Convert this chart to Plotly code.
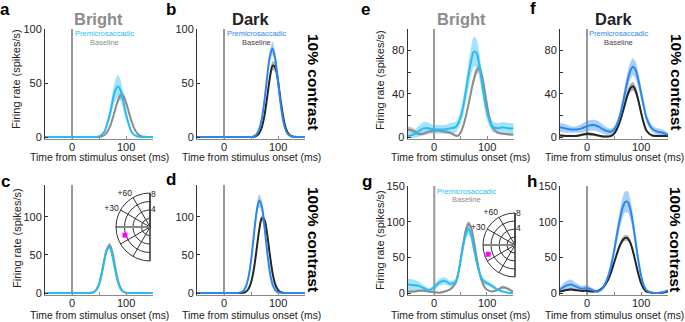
import plotly.graph_objects as go

W, H = 685, 322

# ---------------- data ----------------
T_AD = [-50, -25, 0, 20, 25, 30, 35, 40, 45, 50, 55, 60, 65, 70, 75, 80, 85, 90, 95, 100,
        105, 110, 115, 120, 125, 130, 135, 140, 150]

A_PRE = [0, 0, 0, 0, 0, 0, 0, 0, 0, 0.5, 2, 5, 12, 21, 33, 43, 47, 43, 33, 21, 12, 5, 2, 0.7, 0.2, 0, 0, 0, 0]
A_PRE_SEM = [0, 0, 0, 0, 0, 0, 0, 0, 0, 0.2, 0.5, 1.2, 2.8, 5, 7.5, 9.5, 10.5, 9.5, 7.5, 5, 2.8, 1.2, 0.5, 0.2, 0, 0, 0, 0, 0]
A_BASE = [0, 0, 0, 0, 0, 0, 0, 0, 0, 0.2, 0.7, 1.9, 4.5, 9.3, 16.6, 25.5, 33.7, 38.5, 38, 32, 23.6, 15, 8.2, 3.8, 1.6, 0.6, 0.2, 0, 0]
A_BASE_SEM = [0, 0, 0, 0, 0, 0, 0, 0, 0, 0, 0.1, 0.2, 0.4, 0.8, 1.4, 2.1, 2.8, 3.3, 3.3, 2.9, 2.2, 1.5, 0.8, 0.4, 0.2, 0.1, 0, 0, 0]

B_PRE = [0, 0, 0, 0, 0, 0, 0, 0, 0, 0, 0.6, 2.3, 7, 17, 34, 56, 75, 82, 72, 52, 30, 14, 5.5, 1.8, 0.5, 0, 0, 0, 0]
B_PRE_SEM = [0, 0, 0, 0, 0, 0, 0, 0, 0, 0, 0.1, 0.3, 0.8, 1.8, 3, 4.5, 5.5, 6, 5.5, 4.5, 3, 1.8, 0.8, 0.3, 0.1, 0, 0, 0, 0]
B_BASE = [0, 0, 0, 0, 0, 0, 0, 0, 0, 0, 0.3, 1, 3.3, 9, 20, 37, 55, 66, 64.5, 52, 33.5, 17.5, 7.4, 2.6, 0.8, 0.2, 0, 0, 0]
B_BASE_SEM = [0, 0, 0, 0, 0, 0, 0, 0, 0, 0, 0, 0.1, 0.3, 0.8, 1.6, 2.6, 3.6, 4.2, 4.2, 3.6, 2.6, 1.6, 0.8, 0.3, 0.1, 0, 0, 0, 0]

C_PRE = [0, 0, 0, 0, 0, 0, 0.3, 1.2, 4.3, 12, 26, 44, 58, 60, 48, 30, 14.4, 5.4, 1.6, 0.4, 0, 0, 0, 0, 0, 0, 0, 0, 0]
C_PRE_SEM = [0, 0, 0, 0, 0, 0, 0, 0.1, 0.3, 0.8, 1.6, 2.5, 3, 3, 2.6, 1.8, 0.9, 0.4, 0.1, 0, 0, 0, 0, 0, 0, 0, 0, 0, 0]
C_BASE = [0, 0, 0, 0, 0, 0, 0.2, 1, 4, 11, 25, 43, 58, 63, 53, 34, 17, 6.5, 2, 0.5, 0.1, 0, 0, 0, 0, 0, 0, 0, 0]
C_BASE_SEM = [0, 0, 0, 0, 0, 0, 0, 0.1, 0.3, 0.8, 1.6, 2.5, 3.2, 3.4, 3, 2, 1, 0.4, 0.1, 0, 0, 0, 0, 0, 0, 0, 0, 0, 0]

D_PRE = [0, 0, 0, 0, 0, 0.6, 2.3, 7.5, 19.7, 42, 74, 105, 121.5, 114, 87, 54, 27, 11, 3.8, 1, 0.2, 0, 0, 0, 0, 0, 0, 0, 0]
D_PRE_SEM = [0, 0, 0, 0, 0, 0, 0.2, 0.6, 1.6, 3.4, 5.5, 7.5, 8.5, 8, 6.2, 4, 2, 0.8, 0.3, 0, 0, 0, 0, 0, 0, 0, 0, 0, 0]
D_BASE = [0, 0, 0, 0, 0, 0, 0.2, 1.5, 4.9, 13.5, 30, 55, 82, 98, 96, 77, 50, 26, 11, 4, 1.1, 0.3, 0, 0, 0, 0, 0, 0, 0]
D_BASE_SEM = [0, 0, 0, 0, 0, 0, 0, 0.1, 0.3, 0.8, 1.6, 2.6, 3.6, 4.2, 4.2, 3.6, 2.6, 1.5, 0.7, 0.2, 0.1, 0, 0, 0, 0, 0, 0, 0, 0]

T_EH = [-50, -40, -30, -20, -10, 0, 10, 20, 30, 40, 45, 50, 55, 60, 65, 70, 75, 80, 85, 90,
        95, 100, 105, 110, 120, 130, 140, 150]

E_PRE = [1, 2, 5, 8, 8, 7, 7, 7, 8, 9, 12, 18, 28, 42, 57, 70, 79, 78, 68, 52, 36, 23, 15, 10, 8, 9, 8, 8]
E_PRE_SEM = [2, 3, 5, 6, 5, 4, 4, 4, 5, 5, 5, 6, 8, 10, 12, 13, 14, 13, 12, 10, 8, 7, 6, 5, 5, 5, 5, 5]
E_BASE = [7, 6, 3, 3, 5, 6, 6, 5, 4, 1.5, 1, 4, 10, 19, 30, 42, 53, 61, 64, 58, 45, 30, 17, 9, 4, 3, 2.5, 2]
E_BASE_SEM = [3, 2.5, 1.5, 1.5, 1.5, 1.5, 1.5, 1.5, 1.5, 1, 1, 1.5, 2, 2.5, 3, 3.5, 4, 4, 4, 4, 3.5, 3, 2, 1.5, 1, 1, 1, 1]

F_PRE = [9, 8, 7, 7, 8, 10, 11, 10, 7, 5, 5, 7, 11, 18, 28, 40, 52, 61, 65, 62, 53, 41, 29, 18, 8, 5, 4, 2]
F_PRE_SEM = [4, 4, 3, 3, 4, 5, 5, 5, 4, 3, 3, 3, 4, 5, 6, 7, 8, 8, 8, 8, 7, 6, 5, 4, 3, 3, 3, 2]
F_BASE = [1.5, 1, 1, 1, 2, 3, 2.5, 1.5, 0.5, 0.5, 1, 3, 7, 13, 21, 30, 39, 45, 47, 43, 34, 23, 13, 6, 1.5, 1, 1, 1]
F_BASE_SEM = [1, 1, 1, 1, 1, 1.5, 1.5, 1, 1, 1, 1, 1, 1.5, 2, 2.5, 3, 3.5, 4, 4, 4, 3.5, 3, 2, 1.5, 1, 1, 1, 1]

G_PRE = [12, 11, 10, 7, 4, 8, 15, 17, 13, 15, 25, 45, 66, 82, 90, 82, 64, 46, 31, 21, 16, 14, 12, 10, 5, 2, 0.5, 0]
G_PRE_SEM = [8, 8, 6, 4, 3, 4, 5, 5, 4, 4, 5, 6, 7, 8, 8, 7, 6, 5, 4, 4, 4, 4, 3, 3, 2, 1, 1, 1]
G_BASE = [2, 2, 3, 3, 2, 1, 0.5, 2, 5, 13, 25, 45, 68, 88, 97, 92, 75, 53, 33, 18, 9, 5, 3, 2, 4, 8, 6, 2]
G_BASE_SEM = [1.5, 1.5, 1.5, 1.5, 1.5, 1, 1, 1, 1.5, 2, 2.5, 3, 3.5, 4, 4, 4, 3.5, 3, 2.5, 2, 1.5, 1, 1, 1, 1.5, 2, 2, 1.5]

H_PRE = [5, 10, 12, 9, 6, 7, 4, 2, 8, 25, 40, 58, 80, 100, 117, 127, 128, 118, 98, 72, 46, 25, 11, 4, 0.5, 0, 1, 4]
H_PRE_SEM = [3, 6, 7, 5, 4, 4, 3, 2, 3, 5, 6, 8, 10, 12, 14, 15, 15, 14, 12, 10, 7, 5, 3, 2, 1, 1, 1, 1]
H_BASE = [2, 4, 5, 4, 3, 3, 2, 3, 8, 20, 30, 42, 54, 65, 73, 77, 77, 71, 59, 43, 27, 14, 6, 2, 0.5, 0, 0.5, 2]
H_BASE_SEM = [1, 1.5, 1.5, 1.5, 1, 1, 1, 1, 1.5, 2, 2.5, 3, 3.5, 4, 4, 4, 4, 4, 3.5, 3, 2.5, 2, 1, 1, 0.5, 0.5, 0.5, 0.5]

# RF location insets (radius in deg, angle in deg)
INSET_RINGS = [2, 4, 6, 8]
INSET_RING_LABELS = ["4", "8"]
INSET_ANGLES = [90, 120, 150, 180, 210, 240, 270]
INSET_ANGLE_LABELS = ["", "+60", "+30", "", "", "", ""]
RF_C = (6.2, 198)
RF_G = (7.1, 199)

X_TICKS = [-50, 0, 50, 100, 150]
X_LABELED = [0, 100]

# ---------------- styling ----------------
CYAN = "#27bdf2"
BLUE = "#2b87ee"
GRAY = "#8c8c8c"
DARK = "#262626"
BAND = {CYAN: "rgba(39,189,242,0.42)", BLUE: "rgba(43,135,238,0.40)",
        GRAY: "rgba(140,140,140,0.45)", DARK: "rgba(60,60,60,0.40)"}
FONT = "Liberation Sans, Arial, sans-serif"


def fx(px):
    return px / W


def fy(py):
    return 1 - py / H


# panel: T, pre, pre_sem, base, base_sem, pre color, base color,
#        x px for -50 / 150, y px for 0, y px for top, top value, ticks, ticktext, vline style
PANELS = [
    (T_AD, A_PRE, A_PRE_SEM, A_BASE, A_BASE_SEM, CYAN, GRAY, 45, 153, 137, 29, 100,
     [0, 50, 100], ["0", "50", "100"], ("#333", 1)),
    (T_AD, B_PRE, B_PRE_SEM, B_BASE, B_BASE_SEM, BLUE, DARK, 197, 305, 137, 29, 100,
     [0, 50, 100], ["0", "50", "100"], ("#333", 1)),
    (T_AD, C_PRE, C_PRE_SEM, C_BASE, C_BASE_SEM, CYAN, GRAY, 45, 153, 293, 185, 142,
     [0, 50, 100], ["0", "50", "100"], ("#333", 1)),
    (T_AD, D_PRE, D_PRE_SEM, D_BASE, D_BASE_SEM, BLUE, DARK, 197, 305, 293, 185, 142,
     [0, 50, 100], ["0", "50", "100"], ("#333", 1)),
    (T_EH, E_PRE, E_PRE_SEM, E_BASE, E_BASE_SEM, CYAN, GRAY, 407.5, 513.5, 137, 29, 100,
     [0, 20, 40, 60, 80, 100], ["0", "", "40", "", "80", ""], ("#999", 2)),
    (T_EH, F_PRE, F_PRE_SEM, F_BASE, F_BASE_SEM, BLUE, DARK, 560, 668, 137, 29, 100,
     [0, 20, 40, 60, 80, 100], ["0", "", "40", "", "80", ""], ("#999", 2)),
    (T_EH, G_PRE, G_PRE_SEM, G_BASE, G_BASE_SEM, CYAN, GRAY, 408, 513, 293, 186, 150,
     [0, 50, 100, 150], ["0", "50", "100", "150"], ("#999", 2)),
    (T_EH, H_PRE, H_PRE_SEM, H_BASE, H_BASE_SEM, BLUE, DARK, 560, 668, 293, 186, 150,
     [0, 50, 100, 150], ["0", "50", "100", "150"], ("#999", 2)),
]

fig = go.Figure()
layout_axes = {}
shapes = []
ann = []


def add(text, x, y, size, color="#111", bold=False, angle=0):
    if bold:
        text = f"<b>{text}</b>"
    ann.append(dict(text=text, x=fx(x), y=fy(y), xref="paper", yref="paper", showarrow=False,
                    xanchor="center", yanchor="middle", textangle=angle,
                    font=dict(family=FONT, size=size, color=color)))


for k, (T, pre, pre_sem, base, base_sem, pc, bc, x0, x1, y0, ytop, topv, yt, ytt, vl) in enumerate(PANELS, start=1):
    xa = "x" if k == 1 else f"x{k}"
    ya = "y" if k == 1 else f"y{k}"
    for m, s, c in ((base, base_sem, bc), (pre, pre_sem, pc)):
        up = [a + b for a, b in zip(m, s)]
        lo = [a - b for a, b in zip(m, s)]
        fig.add_trace(go.Scatter(x=T, y=up, mode="lines", line=dict(width=0, shape="spline", smoothing=0.8),
                                 hoverinfo="skip", showlegend=False, xaxis=xa, yaxis=ya))
        fig.add_trace(go.Scatter(x=T, y=lo, mode="lines", line=dict(width=0, shape="spline", smoothing=0.8),
                                 fill="tonexty", fillcolor=BAND[c],
                                 hoverinfo="skip", showlegend=False, xaxis=xa, yaxis=ya))
    for m, c in ((base, bc), (pre, pc)):
        fig.add_trace(go.Scatter(x=T, y=m, mode="lines", line=dict(width=2, color=c, shape="spline", smoothing=0.8),
                                 showlegend=False, xaxis=xa, yaxis=ya))
    scale = (y0 - ytop) / topv
    lo_val = -1.5 / scale
    ybot_px = y0 + 1.5
    key = "" if k == 1 else str(k)
    layout_axes[f"xaxis{key}"] = dict(
        domain=[fx(x0), fx(x1)], range=[-50, 150], anchor=ya,
        tickvals=X_TICKS, showticklabels=False, ticks="inside", ticklen=3,
        tickcolor="#888", showline=True, linecolor="#888", linewidth=1,
        showgrid=False, zeroline=False)
    layout_axes[f"yaxis{key}"] = dict(
        domain=[fy(ybot_px), fy(ytop)], range=[lo_val, topv], anchor=xa,
        tickvals=yt, ticktext=ytt, ticks="inside", ticklen=3,
        tickcolor="#333", showline=True, linecolor="#333", linewidth=1,
        showgrid=False, zeroline=False,
        tickfont=dict(family=FONT, size=11, color="#222"))
    shapes.append(dict(type="line", xref=xa, yref=f"{ya} domain", x0=0, x1=0, y0=0, y1=1,
                       line=dict(color=vl[0], width=vl[1]), layer="below"))
    # x tick labels placed just under the axis
    for v in X_LABELED:
        ann.append(dict(text=str(v), x=v, xref=xa, y=fy(y0 + 9.5), yref="paper", showarrow=False,
                        xanchor="center", yanchor="middle",
                        font=dict(family=FONT, size=11, color="#222")))

# ---------------- polar insets ----------------
for sub, rf in (("polar", RF_C), ("polar2", RF_G)):
    fig.add_trace(go.Scatterpolar(r=[0, INSET_RINGS[-1]], theta=[180, 180], mode="lines",
                                  line=dict(color="#888", width=2), subplot=sub, showlegend=False,
                                  hoverinfo="skip"))
    fig.add_trace(go.Scatterpolar(r=[rf[0]], theta=[rf[1]], mode="markers",
                                  marker=dict(color="#ff00ff", size=5, symbol="square"),
                                  subplot=sub, showlegend=False))
    fig.add_trace(go.Scatterpolar(r=[0], theta=[0], mode="markers",
                                  marker=dict(color="black", size=5), subplot=sub, showlegend=False))


def polar_layout(xl, xr, yt, yb):
    return dict(
        domain=dict(x=[fx(xl), fx(xr)], y=[fy(yb), fy(yt)]),
        sector=[90, 270], bgcolor="rgba(0,0,0,0)",
        angularaxis=dict(rotation=0, direction="counterclockwise", tickvals=INSET_ANGLES,
                         ticktext=INSET_ANGLE_LABELS, showgrid=True, gridcolor="#333", gridwidth=1,
                         linecolor="#333", linewidth=1, ticks="",
                         tickfont=dict(family=FONT, size=8.5, color="#222")),
        radialaxis=dict(range=[0, INSET_RINGS[-1]], tickvals=INSET_RINGS, showticklabels=False,
                        angle=90, showline=True, linecolor="#333",
                        linewidth=1, gridcolor="#333", gridwidth=1, ticks=""),
    )


# radial ring labels beside the vertical edge of each inset
for lab, x, y in zip(INSET_RING_LABELS * 2, (153, 153, 518, 518), (209, 194, 228, 213)):
    add(lab, x, y, 8.5, "#222")

# ---------------- other text ----------------
for letter, x, y in (("a", 5, 9), ("b", 171, 9), ("c", 5, 181), ("d", 171, 179),
                     ("e", 366, 9), ("f", 533, 8), ("g", 367, 181), ("h", 532, 181)):
    add(letter, x, y, 17, "#000", True)

add("Bright", 98.5, 19, 16.5, "#8c8c8c", True)
add("Dark", 251, 19, 16.5, "#222", True)
add("Bright", 461, 19, 16.5, "#8c8c8c", True)
add("Dark", 614, 19, 16.5, "#222", True)

add("10% contrast", 313, 82, 15.5, "#000", True, 90)
add("100% contrast", 314, 239, 15.5, "#000", True, 90)
add("10% contrast", 676, 82, 15.5, "#000", True, 90)
add("100% contrast", 676, 239, 15.5, "#000", True, 90)

for (x, y, pcol, bcol) in ((104.5, 34, CYAN, GRAY), (256.5, 34, BLUE, "#444"),
                           (618, 34, BLUE, "#444"), (466.5, 191.5, CYAN, GRAY)):
    add("Premicrosaccadic", x, y, 7.5, pcol)
    add("Baseline", x, y + 8.5, 7.5, bcol)

for x, y in ((99, 157), (251, 157), (460.5, 157), (614, 157),
             (99, 315), (251, 315), (460.5, 315), (614, 315)):
    add("Time from stimulus onset (ms)", x, y, 10.4, "#222")

for x, y in ((16, 79), (17, 238), (380, 80), (380, 240)):
    add("Firing rate (spikes/s)", x, y, 11, "#222", False, -90)

fig.update_layout(
    width=W, height=H, margin=dict(l=0, r=0, t=0, b=0, autoexpand=False),
    paper_bgcolor="white", plot_bgcolor="rgba(0,0,0,0)",
    showlegend=False, annotations=ann, shapes=shapes,
    polar=polar_layout(116, 150, 193, 261),
    polar2=polar_layout(483, 515, 213, 277),
    **layout_axes,
)

fig.write_html("out.html", config={"displayModeBar": False},
               post_script="document.body.style.margin='0px';")
